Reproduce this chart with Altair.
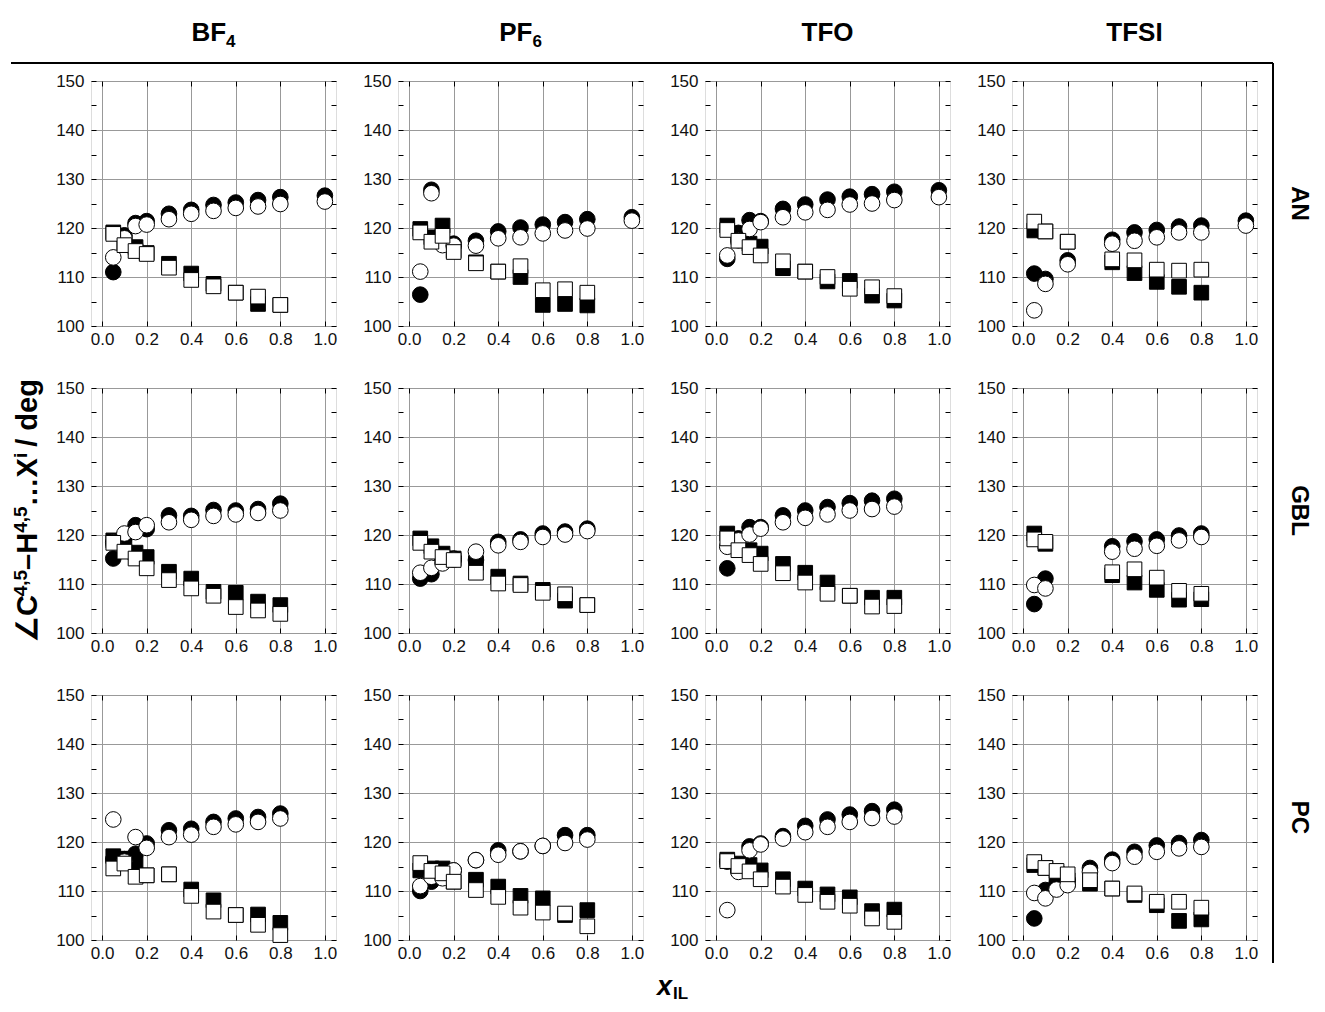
import altair as alt
import pandas as pd

# ---------------- x grids ----------------
X_FULL = [0.05, 0.1, 0.15, 0.2, 0.3, 0.4, 0.5, 0.6, 0.7, 0.8]
X_FULL_1 = [0.05, 0.1, 0.15, 0.2, 0.3, 0.4, 0.5, 0.6, 0.7, 0.8, 1.0]
X_TFSI_AN_C = [0.05, 0.1, 0.2, 0.4, 0.5, 0.6, 0.7, 0.8, 1.0]
X_TFSI_AN_S = [0.05, 0.1, 0.2, 0.4, 0.5, 0.6, 0.7, 0.8]
X_TFSI_GBL = [0.05, 0.1, 0.4, 0.5, 0.6, 0.7, 0.8]

ANIONS = ["BF4", "PF6", "TFO", "TFSI"]
SOLVENTS = ["AN", "GBL", "PC"]

# ---------------- AN ----------------
AN_BF4_fc = [111.0, 118.5, 121.0, 121.4, 122.9, 123.7, 124.7, 125.2, 125.7, 126.3, 126.6]
AN_BF4_oc = [114.0, 117.9, 120.4, 120.7, 121.8, 122.9, 123.5, 124.1, 124.4, 124.9, 125.4]
AN_BF4_fs = [119.1, 117.0, 116.1, 114.9, 112.7, 110.7, 108.6, 106.8, 104.5, 104.3]
AN_BF4_os = [118.8, 116.5, 115.3, 114.7, 111.9, 109.4, 108.1, 106.8, 106.0, 104.3]

AN_PF6_fc = [106.4, 127.8, 116.8, 116.8, 117.4, 119.3, 120.1, 120.7, 121.2, 121.8, 122.2]
AN_PF6_oc = [111.1, 127.1, 116.5, 116.4, 116.4, 117.9, 118.1, 118.9, 119.5, 119.9, 121.5]
AN_PF6_fs = [119.8, 118.1, 120.5, 115.4, 113.0, 111.1, 110.0, 104.3, 104.5, 104.2]
AN_PF6_os = [119.1, 117.2, 118.4, 115.1, 112.8, 111.1, 112.2, 107.3, 107.5, 106.8]

AN_TFO_fc = [113.7, 119.0, 121.6, 121.4, 123.9, 124.8, 125.8, 126.4, 126.9, 127.4, 127.7]
AN_TFO_oc = [114.4, 117.5, 119.8, 121.2, 122.2, 123.2, 123.7, 124.8, 125.0, 125.7, 126.3]
AN_TFO_fs = [120.5, 118.1, 116.8, 116.2, 111.8, 111.1, 109.1, 109.2, 106.2, 105.2]
AN_TFO_os = [119.6, 117.4, 116.1, 114.4, 113.2, 111.1, 110.0, 107.6, 107.9, 106.1]

AN_TFSI_fc = [110.7, 109.6, 113.4, 117.6, 119.1, 119.6, 120.3, 120.5, 121.5]
AN_TFSI_oc = [103.2, 108.6, 112.6, 116.8, 117.4, 118.1, 119.1, 119.1, 120.5]
AN_TFSI_fs = [119.5, 119.3, 117.2, 113.0, 110.8, 109.0, 108.0, 106.8]
AN_TFSI_os = [121.3, 119.3, 117.2, 113.6, 113.4, 111.5, 111.3, 111.5]

# ---------------- GBL ----------------
GBL_BF4_fc = [115.2, 119.5, 122.0, 121.2, 124.0, 123.9, 125.1, 125.0, 125.3, 126.4]
GBL_BF4_oc = [118.5, 120.3, 120.6, 122.0, 122.6, 123.1, 123.9, 124.2, 124.5, 125.0]
GBL_BF4_fs = [118.9, 118.2, 116.4, 115.5, 112.5, 111.1, 108.4, 108.2, 106.4, 105.7]
GBL_BF4_os = [118.4, 116.6, 115.2, 113.2, 110.8, 109.1, 107.6, 105.3, 104.6, 103.9]

GBL_PF6_fc = [111.1, 112.0, 114.9, 115.2, 114.9, 118.6, 119.1, 120.3, 120.7, 121.3]
GBL_PF6_oc = [112.3, 113.3, 114.2, 115.0, 116.6, 117.9, 118.6, 119.6, 120.1, 120.8]
GBL_PF6_fs = [119.3, 117.7, 116.2, 115.2, 114.3, 111.5, 110.1, 108.8, 106.6, 105.7]
GBL_PF6_os = [118.4, 116.6, 115.5, 114.9, 112.3, 110.1, 109.8, 108.2, 107.9, 105.7]

GBL_TFO_fc = [113.2, 119.3, 121.6, 121.6, 124.0, 125.0, 125.7, 126.5, 127.0, 127.4]
GBL_TFO_oc = [117.6, 118.9, 120.1, 121.3, 122.6, 123.5, 124.2, 125.0, 125.3, 125.8]
GBL_TFO_fs = [120.3, 117.6, 116.9, 116.2, 114.1, 112.3, 110.3, 107.6, 107.2, 107.2]
GBL_TFO_os = [119.3, 116.9, 115.9, 114.1, 112.2, 110.3, 108.0, 107.6, 105.4, 105.5]

GBL_TFSI_fc = [105.9, 111.1, 117.7, 118.7, 119.1, 119.9, 120.3]
GBL_TFSI_oc = [109.8, 109.1, 116.6, 117.2, 117.8, 118.9, 119.6]
GBL_TFSI_fs = [120.3, 118.2, 111.8, 110.3, 108.8, 106.8, 106.9]
GBL_TFSI_os = [119.1, 118.6, 112.4, 113.0, 111.3, 108.6, 108.0]

# ---------------- PC ----------------
PC_BF4_fc = [116.5, 116.5, 117.6, 119.7, 122.4, 122.7, 124.1, 124.8, 125.1, 125.8]
PC_BF4_oc = [124.6, 116.0, 121.0, 118.8, 121.0, 121.5, 123.1, 123.6, 124.1, 124.8]
PC_BF4_fs = [117.1, 116.6, 115.6, 113.2, 113.4, 110.3, 108.1, 105.1, 105.2, 103.5]
PC_BF4_os = [114.6, 115.6, 112.9, 113.2, 113.4, 109.0, 105.8, 105.1, 103.1, 101.0]

PC_PF6_fc = [110.0, 111.9, 113.9, 114.2, 116.3, 118.3, 118.1, 119.2, 121.4, 121.4]
PC_PF6_oc = [111.0, 112.9, 112.6, 114.2, 116.3, 117.4, 118.1, 119.2, 119.8, 120.5]
PC_PF6_fs = [114.2, 114.6, 114.6, 111.9, 112.3, 110.9, 109.0, 108.5, 105.1, 106.1]
PC_PF6_os = [115.7, 114.1, 113.6, 111.9, 110.2, 108.8, 106.6, 105.6, 105.4, 102.8]

PC_TFO_fc = [116.0, 114.2, 119.1, 119.7, 121.2, 123.3, 124.6, 125.6, 126.3, 126.6]
PC_TFO_oc = [106.1, 113.9, 118.3, 119.5, 120.7, 122.0, 123.1, 124.1, 124.9, 125.2]
PC_TFO_fs = [116.4, 115.6, 115.3, 114.2, 112.4, 110.5, 109.3, 108.7, 105.9, 106.2]
PC_TFO_os = [116.1, 115.1, 114.0, 112.4, 110.9, 109.2, 107.8, 107.0, 104.4, 103.7]

PC_TFSI_fc = [104.4, 110.2, 111.5, 112.2, 114.7, 116.4, 118.0, 119.3, 119.8, 120.4]
PC_TFSI_oc = [109.6, 108.5, 110.3, 111.2, 113.9, 115.7, 117.0, 118.0, 118.7, 119.0]
PC_TFSI_fs = [115.3, 114.7, 113.6, 112.2, 111.5, 110.5, 109.2, 107.1, 103.9, 104.2]
PC_TFSI_os = [115.9, 114.7, 114.1, 113.4, 112.2, 110.5, 109.5, 107.8, 107.8, 106.6]

PANELS = [
    [(X_FULL_1, AN_BF4_fc, AN_BF4_oc, X_FULL, AN_BF4_fs, AN_BF4_os),
     (X_FULL_1, AN_PF6_fc, AN_PF6_oc, X_FULL, AN_PF6_fs, AN_PF6_os),
     (X_FULL_1, AN_TFO_fc, AN_TFO_oc, X_FULL, AN_TFO_fs, AN_TFO_os),
     (X_TFSI_AN_C, AN_TFSI_fc, AN_TFSI_oc, X_TFSI_AN_S, AN_TFSI_fs, AN_TFSI_os)],
    [(X_FULL, GBL_BF4_fc, GBL_BF4_oc, X_FULL, GBL_BF4_fs, GBL_BF4_os),
     (X_FULL, GBL_PF6_fc, GBL_PF6_oc, X_FULL, GBL_PF6_fs, GBL_PF6_os),
     (X_FULL, GBL_TFO_fc, GBL_TFO_oc, X_FULL, GBL_TFO_fs, GBL_TFO_os),
     (X_TFSI_GBL, GBL_TFSI_fc, GBL_TFSI_oc, X_TFSI_GBL, GBL_TFSI_fs, GBL_TFSI_os)],
    [(X_FULL, PC_BF4_fc, PC_BF4_oc, X_FULL, PC_BF4_fs, PC_BF4_os),
     (X_FULL, PC_PF6_fc, PC_PF6_oc, X_FULL, PC_PF6_fs, PC_PF6_os),
     (X_FULL, PC_TFO_fc, PC_TFO_oc, X_FULL, PC_TFO_fs, PC_TFO_os),
     (X_FULL, PC_TFSI_fc, PC_TFSI_oc, X_FULL, PC_TFSI_fs, PC_TFSI_os)],
]

X_TICKS = [0.0, 0.2, 0.4, 0.6, 0.8, 1.0]
Y_TICKS = [100, 105, 110, 115, 120, 125, 130, 135, 140, 145, 150]

W = 245
H = 245
GAP = 62
FONT = "Liberation Sans"
TICK_FONT = 17
CIRCLE_SIZE = 245
SQUARE_SIZE = 215

CHARW = {'0': .556, '1': .556, '2': .556, '3': .556, '4': .556, '5': .556, '6': .556,
         '7': .556, '8': .556, '9': .556, '.': .278, ',': .278, 'B': .722, 'F': .611,
         'P': .667, 'T': .611, 'O': .778, 'S': .667, 'I': .278, 'L': .611, 'C': .722,
         'H': .722, 'X': .667, 'i': .278, 'd': .611, 'e': .556, 'g': .611, '/': .278,
         ' ': .278, '\u00a0': .278, '\u2013': .556, '\u2026': 1.0, '\u2220': .85, 'x': .556}


def tw(s, size):
    return sum(CHARW.get(ch, .6) for ch in s) * size


ONE = alt.Data(values=[{"k": 1}])

x_axis = alt.Axis(values=X_TICKS, format=".1f", orient="bottom", offset=-5, tickSize=5,
                  domain=False, grid=True, gridColor="#999999", gridWidth=1,
                  tickColor="black", tickWidth=1, labelFontSize=TICK_FONT, labelFont=FONT,
                  labelColor="#111111", labelPadding=5, labelFlush=False, labelOverlap=False)
y_axis = alt.Axis(values=Y_TICKS, orient="left", offset=-5, tickSize=5, domain=False,
                  grid=True, gridColor="#999999", gridWidth=1,
                  gridOpacity={"condition": {"test": "datum.value % 10 === 0", "value": 1}, "value": 0},
                  labelExpr="datum.value % 10 === 0 ? datum.label : ''",
                  tickColor="black", tickWidth=1, labelFontSize=TICK_FONT, labelFont=FONT,
                  labelColor="#111111", labelPadding=7, labelOverlap=False, labelFlush=False)
x_axis_top = alt.Axis(values=X_TICKS, orient="top", offset=-5, tickSize=5, domain=False,
                      grid=False, labels=False, tickColor="black", tickWidth=1)
y_axis_right = alt.Axis(values=Y_TICKS, orient="right", offset=-5, tickSize=5, domain=False,
                        grid=False, labels=False, tickColor="black", tickWidth=1)

XS = alt.Scale(domain=[-0.05, 1.05], nice=False, zero=False)
YS = alt.Scale(domain=[100, 150], nice=False, zero=False)


def text_mark(txt, x, y, size, angle=0, align="left", baseline="alphabetic", italic=False):
    kw = dict(text=txt, fontSize=size, fontWeight="bold", font=FONT, angle=angle,
              align=align, baseline=baseline, color="black")
    if italic:
        kw["fontStyle"] = "italic"
    return alt.Chart(ONE).mark_text(**kw).encode(x=alt.value(x), y=alt.value(y))


def rule_mark(x, x2, y, y2, width=2, opacity=1):
    return alt.Chart(ONE).mark_rule(color="black", strokeWidth=width, opacity=opacity).encode(
        x=alt.value(x), x2=alt.value(x2), y=alt.value(y), y2=alt.value(y2))


def header(anion):
    big, small = 26, 17
    base_y = -40
    cx = W / 2
    if anion in ("BF4", "PF6"):
        main, sub = anion[:2], anion[2]
        total = tw(main, big) + tw(sub, small)
        x0 = cx - total / 2
        return [text_mark(main, x0, base_y, big),
                text_mark(sub, x0 + tw(main, big), base_y + 6, small)]
    return [text_mark(anion, cx, base_y, big, align="center")]


def y_title():
    F, S = 29, 19
    xb = -54
    # (text, size, baseline shift, gap after)
    parts = [("\u2220C", F, 0, 0), ("4,5", S, -10, 0), ("\u2013H", F, 0, 0), ("4,5", S, -10, 0),
             ("\u2026X", F, 0, 0), ("i", S, -10, 6), ("/\u00a0deg", F, 0, 0)]
    total = sum(tw(t, s) + g for t, s, _, g in parts)
    y = H / 2 + total / 2
    out = []
    for t, s, d, g in parts:
        out.append(text_mark(t, xb + d, y, s, angle=270))
        y -= tw(t, s) + g
    return out


def x_title():
    return [text_mark("x", 259, 300, 27, italic=True),
            text_mark("IL", 259 + tw("x", 27) + 1, 304, 17)]


def panel(r, c):
    xc, fc, oc, xs, fs, os_ = PANELS[r][c]
    rows = []
    for x, v in zip(xc, fc):
        rows.append({"x": x, "y": v, "shape": "circle", "fill": "black", "size": CIRCLE_SIZE})
    for x, v in zip(xs, fs):
        rows.append({"x": x, "y": v, "shape": "square", "fill": "black", "size": SQUARE_SIZE})
    for x, v in zip(xc, oc):
        rows.append({"x": x, "y": v, "shape": "circle", "fill": "white", "size": CIRCLE_SIZE})
    for x, v in zip(xs, os_):
        rows.append({"x": x, "y": v, "shape": "square", "fill": "white", "size": SQUARE_SIZE})
    df = pd.DataFrame(rows)

    pts = alt.Chart(df).mark_point(filled=True, stroke="black", strokeWidth=1, opacity=1).encode(
        x=alt.X("x:Q", scale=XS, axis=x_axis, title=None),
        y=alt.Y("y:Q", scale=YS, axis=y_axis, title=None),
        shape=alt.Shape("shape:N", scale=None),
        fill=alt.Fill("fill:N", scale=None),
        size=alt.Size("size:Q", scale=None),
    )
    mirror = alt.Chart(df).mark_point(opacity=0).encode(
        x=alt.X("x:Q", scale=XS, axis=x_axis_top, title=None),
        y=alt.Y("y:Q", scale=YS, axis=y_axis_right, title=None),
    )
    layers = [pts, mirror]
    if r == 0 and c == 0:
        layers.append(rule_mark(-82, -81, -72, -72, width=1, opacity=0))
        layers.append(rule_mark(-80, 1182, -18, -18, width=2))
    if r == 0:
        layers += header(ANIONS[c])
    if r == 0 and c == 3:
        layers.append(rule_mark(261, 261, -18, 882, width=2))
        layers.append(rule_mark(303, 304, 0, 0, width=1, opacity=0))
    if c == 3:
        layers.append(text_mark(SOLVENTS[r], 287, H / 2, 24, angle=90, align="center",
                                baseline="middle"))
    if r == 1 and c == 0:
        layers += y_title()
    if r == 2 and c == 1:
        layers += x_title()
    return alt.layer(*layers).resolve_axis(x="independent", y="independent").properties(
        width=W, height=H)


panels = [panel(r, c) for r in range(3) for c in range(4)]

chart = alt.ConcatChart(concat=panels, columns=4, spacing=GAP, bounds="flush").properties(
    padding=0
).configure_view(stroke="black", strokeWidth=2).configure(font=FONT)

chart.save("out.html", embed_options={"renderer": "svg", "actions": False})
